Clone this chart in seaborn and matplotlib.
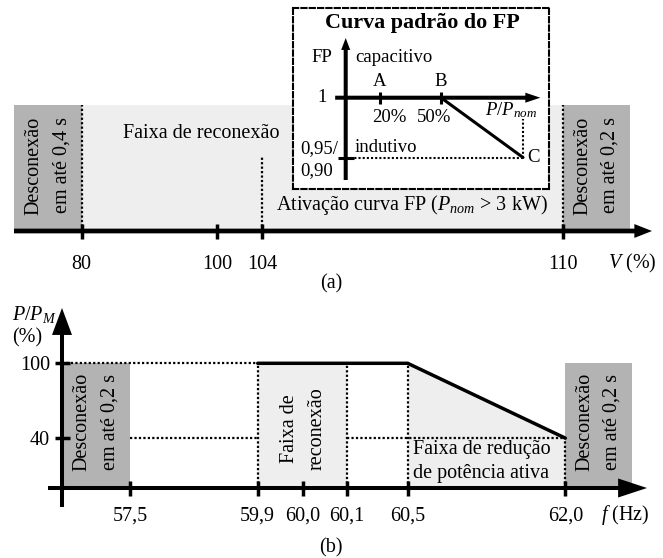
import numpy as np
import matplotlib
matplotlib.use("Agg")
import matplotlib.pyplot as plt
import seaborn as sns

# ---------------- data ----------------
# (a) voltage ranges, % of nominal voltage
V_TICKS = [80, 100, 104, 110]
V_TICK_LABELS = ["80", "100", "104", "110"]
V_RECONNECT = [80, 110]           # reconnection band
V_PF_START = 104                  # power-factor curve activation

# inset: standard power-factor curve (P/Pnom in %, FP)
PF_P = [20, 50, 100]
PF_FP = [1.0, 1.0, 0.90]
PF_NAMES = ["A", "B", "C"]
PF_TICK_LABELS = ["20%", "50%"]

# (b) frequency ranges (Hz) and active-power limit (% of P_M)
F_TICKS = [57.5, 59.9, 60.0, 60.1, 60.5, 62.0]
F_TICK_LABELS = ["57,5", "59,9", "60,0", "60,1", "60,5", "62,0"]
P_TICKS = [40, 100]
P_TICK_LABELS = ["40", "100"]
F_RECONNECT = [59.9, 60.1]
CURVE_F = [59.9, 60.5, 62.0]
CURVE_P = [100, 100, 40]

# ---------------- style ----------------
sns.set_theme(style="white")
plt.rcParams["font.family"] = ["Liberation Serif", "DejaVu Serif"]
plt.rcParams["mathtext.fontset"] = "custom"
plt.rcParams["mathtext.rm"] = "Liberation Serif"
plt.rcParams["mathtext.it"] = "Liberation Serif:italic"
plt.rcParams["mathtext.bf"] = "Liberation Serif:bold"
for key in ("text.color", "xtick.color", "ytick.color", "axes.labelcolor"):
    plt.rcParams[key] = "black"

DARK = "#b3b3b3"
LIGHT = "#eeeeee"
DOT = (0, (1, 1))
FS = 14.5
FS_IN = 13.5

W, H, DPI = 663, 558, 100
fig = plt.figure(figsize=(W / DPI, H / DPI), dpi=DPI)


def px_axes(x0, y0, x1, y1, **kw):
    return fig.add_axes([x0 / W, 1 - y1 / H, (x1 - x0) / W, (y1 - y0) / H], **kw)


def ptext(x, y, s, **kw):
    return fig.text(x / W, 1 - y / H, s, **kw)


def schematic_xscale(ax, knots, slots):
    """Piecewise-linear (non-uniform) axis used by the schematic."""
    v = np.asarray(knots, float)
    s = np.asarray(slots, float)
    s0 = (s[1] - s[0]) / (v[1] - v[0])
    s1 = (s[-1] - s[-2]) / (v[-1] - v[-2])
    v_ext = np.r_[v[0] - 1e3, v, v[-1] + 1e3]
    s_ext = np.r_[s[0] - 1e3 * s0, s, s[-1] + 1e3 * s1]
    ax.set_xscale("function", functions=(lambda x: np.interp(x, v_ext, s_ext),
                                         lambda y: np.interp(y, s_ext, v_ext)))


def axis_arrow(ax, start, end, length, width, shaft):
    ax.annotate("", xy=end, xytext=start, xycoords="data", textcoords="data",
                arrowprops=dict(arrowstyle=f"simple,head_length={length},"
                                           f"head_width={width},tail_width={shaft}",
                                mutation_scale=1, fc="black", ec="none", lw=0,
                                shrinkA=0, shrinkB=0),
                annotation_clip=False, zorder=5)


def strip(ax):
    for sp in ax.spines.values():
        sp.set_visible(False)
    ax.set_xlabel("")
    ax.set_ylabel("")


box_kw = dict(rotation=90, ha="center", va="center", fontsize=FS,
              linespacing=1.6, multialignment="center")

# ================= (a) voltage =================
ax_a = px_axes(14, 105, 652, 231)
ax_a.set_facecolor("none")
strip(ax_a)
schematic_xscale(ax_a, [70, 80, 100, 104, 110, 112], [14, 81.7, 217, 262, 563, 652])
ax_a.set_xlim(70, 112)
ax_a.set_ylim(0, 1)

ax_a.axvspan(70, V_RECONNECT[0], color=DARK, lw=0, zorder=0)
ax_a.axvspan(V_RECONNECT[0], V_RECONNECT[1], color=LIGHT, lw=0, zorder=0)
ax_a.axvspan(V_RECONNECT[1], 111.5, color=DARK, lw=0, zorder=0)
ax_a.vlines(V_RECONNECT, 0, 1, colors="black", linestyles=DOT, lw=1.6, zorder=2)
ax_a.vlines(V_PF_START, 0, 0.59, colors="black", linestyles=DOT, lw=1.6, zorder=2)
axis_arrow(ax_a, (70, 0), (112, 0), 12.7, 10.0, 3.4)

ax_a.set_xticks(V_TICKS, V_TICK_LABELS)
ax_a.set_yticks([])
ax_a.tick_params(axis="x", bottom=True, direction="inout", length=10.8, width=2.5,
                 pad=12.0, labelsize=FS)

ax_a.text(75, 0.52, "Desconexão\nem até 0,4 s", **box_kw)
ax_a.text(110.75, 0.52, "Desconexão\nem até 0,2 s", **box_kw)

ptext(201.5, 138, "Faixa de reconexão", ha="center", va="baseline", fontsize=FS)
ptext(412, 210, "Ativação curva FP ($P_{nom}$ > 3 kW)", ha="center", va="baseline",
      fontsize=FS)
ptext(632, 268, "$V$ (%)", ha="center", va="baseline", fontsize=FS)
ptext(331, 288, "(a)", ha="center", va="baseline", fontsize=FS)

# ---------------- inset: PF curve ----------------
ax_i = px_axes(293, 8, 549, 189, zorder=10)
ax_i.set_facecolor("white")
sns.lineplot(x=PF_P, y=PF_FP, ax=ax_i, color="black", lw=2.2, sort=False,
             estimator=None, zorder=4)
schematic_xscale(ax_i, [-30, 0, 20, 50, 100, 115], [293, 345.7, 380, 441, 523, 549])
ax_i.set_xlim(-30, 115)
ky = 598.0
ax_i.set_ylim(0.9 - (189 - 157.5) / ky, 1.0 + (97.7 - 8) / ky)
ax_i.set_xticks([])
ax_i.set_yticks([])
ax_i.set_xlabel("")
ax_i.set_ylabel("")
for sp in ax_i.spines.values():
    sp.set_linestyle((0, (2.5, 1.5)))
    sp.set_linewidth(1.5)
    sp.set_color("black")

y_bot = 0.9 - (180 - 157.5) / ky
y_top = 1.0 + (97.7 - 38) / ky
axis_arrow(ax_i, (-6, 1.0), (110, 1.0), 10.8, 7.2, 2.9)
axis_arrow(ax_i, (0, y_bot), (0, y_top), 8.6, 6.5, 2.9)
ax_i.plot(PF_P[:2], PF_FP[:2], ls="none", marker="|", ms=8.6, mew=2.2,
          color="black", zorder=6)
ax_i.plot([0], [PF_FP[2]], ls="none", marker="_", ms=12, mew=2.2,
          color="black", zorder=6)
ax_i.hlines(PF_FP[2], 0, PF_P[2], colors="black", linestyles=DOT, lw=1.5, zorder=3)
ax_i.vlines(PF_P[2], PF_FP[2], 0.964, colors="black", linestyles=DOT, lw=1.5, zorder=3)

for name, x, y in zip(PF_NAMES[:2], PF_P[:2], PF_FP[:2]):
    ax_i.annotate(name, (x, y), xytext=(0, 8.4), textcoords="offset points",
                  ha="center", va="baseline", fontsize=FS_IN)
ax_i.annotate(PF_NAMES[2], (PF_P[2], PF_FP[2]), xytext=(3, 0),
              textcoords="offset points", ha="left", va="center", fontsize=FS_IN)
for lab, x, dx in zip(PF_TICK_LABELS, PF_P[:2], (7, -5)):
    ax_i.annotate(lab, (x, 1.0), xytext=(dx, -17.5), textcoords="offset points",
                  ha="center", va="baseline", fontsize=FS_IN)
ax_i.annotate("1", (0, 1.0), xytext=(-17, 0), textcoords="offset points",
              ha="center", va="center", fontsize=FS_IN)

ptext(422, 28, "Curva padrão do FP", ha="center", va="baseline", fontsize=15.8,
      fontweight="bold", zorder=11)
ptext(322, 62, "FP", ha="center", va="baseline", fontsize=FS_IN, zorder=11)
ptext(355, 62, "capacitivo", ha="left", va="baseline", fontsize=FS_IN, zorder=11)
ptext(355, 152, "indutivo", ha="left", va="baseline", fontsize=FS_IN, zorder=11)
ptext(300, 153, "0,95/", ha="left", va="baseline", fontsize=FS_IN, zorder=11)
ptext(300, 175, "0,90", ha="left", va="baseline", fontsize=FS_IN, zorder=11)
ptext(485, 115, "$P/P_{nom}$", ha="left", va="baseline", fontsize=FS_IN, zorder=11)

# ================= (b) frequency =================
ax_b = px_axes(48, 300, 647, 510)
ax_b.set_facecolor("none")
sns.lineplot(x=CURVE_F, y=CURVE_P, ax=ax_b, color="black", lw=2.5, sort=False,
             estimator=None, zorder=4)
strip(ax_b)
F_AXIS = 56.0
schematic_xscale(ax_b, [55.7, F_AXIS, 57.5, 59.9, 60.0, 60.1, 60.5, 62.0, 62.7, 62.85],
                 [48, 62, 130, 257.7, 303, 346.7, 407.7, 565.3, 631.7, 647])
ax_b.set_xlim(55.7, 62.85)
kp = (488 - 363.3) / 100
ax_b.set_ylim((488 - 510) / kp, (488 - 300) / kp)

ax_b.fill_between([F_AXIS, F_TICKS[0]], 0, P_TICKS[1], color=DARK, lw=0, zorder=0)
ax_b.fill_between(F_RECONNECT, 0, P_TICKS[1], color=LIGHT, lw=0, zorder=0)
ax_b.fill_between(CURVE_F[1:], CURVE_P[1:], 0, color=LIGHT, lw=0, zorder=0)
ax_b.fill_between([CURVE_F[-1], 62.7], 0, P_TICKS[1], color=DARK, lw=0, zorder=0)

dkw = dict(colors="black", linestyles=DOT, lw=1.6, zorder=2)
ax_b.hlines(P_TICKS[1], F_AXIS, F_RECONNECT[0], **dkw)
ax_b.hlines(P_TICKS[0], F_TICKS[0], F_RECONNECT[0], **dkw)
ax_b.hlines(P_TICKS[0], F_RECONNECT[1], CURVE_F[-1], **dkw)
ax_b.vlines([F_RECONNECT[0], F_RECONNECT[1], CURVE_F[1]], 0, P_TICKS[1], **dkw)
ax_b.vlines(CURVE_F[-1], 0, CURVE_P[-1], **dkw)

axis_arrow(ax_b, (55.7, 0), (62.85, 0), 20.8, 13.7, 2.9)
axis_arrow(ax_b, (F_AXIS, (488 - 507) / kp), (F_AXIS, (488 - 308) / kp), 19.4, 14.4, 2.9)

ax_b.spines["bottom"].set_position(("data", 0))
ax_b.spines["left"].set_position(("data", F_AXIS))
ax_b.set_xticks(F_TICKS, F_TICK_LABELS)
ax_b.set_yticks(P_TICKS, P_TICK_LABELS)
ax_b.tick_params(axis="x", bottom=True, direction="inout", length=10.8, width=2.5,
                 pad=8.0, labelsize=FS)
ax_b.tick_params(axis="y", left=True, direction="inout", length=10.8, width=2.5,
                 pad=3.2, labelsize=FS)

ax_b.text((F_AXIS + F_TICKS[0]) / 2, 53, "Desconexão\nem até 0,2 s", **box_kw)
ax_b.text(60.0, 48, "Faixa de\nreconexão", **box_kw)
ax_b.text((CURVE_F[-1] + 62.7) / 2, 53, "Desconexão\nem até 0,2 s", **box_kw)
ax_b.annotate("Faixa de redução\nde potência ativa", (CURVE_F[1], 21.6),
              xytext=(4, 0), textcoords="offset points", ha="left", va="center",
              fontsize=FS, linespacing=1.35)

ptext(12, 320, "$P/P_{M}$", ha="left", va="baseline", fontsize=FS)
ptext(12, 342, "(%)", ha="left", va="baseline", fontsize=FS)
ptext(625, 520, "$f$ (Hz)", ha="center", va="baseline", fontsize=FS)
ptext(331, 552, "(b)", ha="center", va="baseline", fontsize=FS)

fig.savefig("out.png", dpi=DPI)
